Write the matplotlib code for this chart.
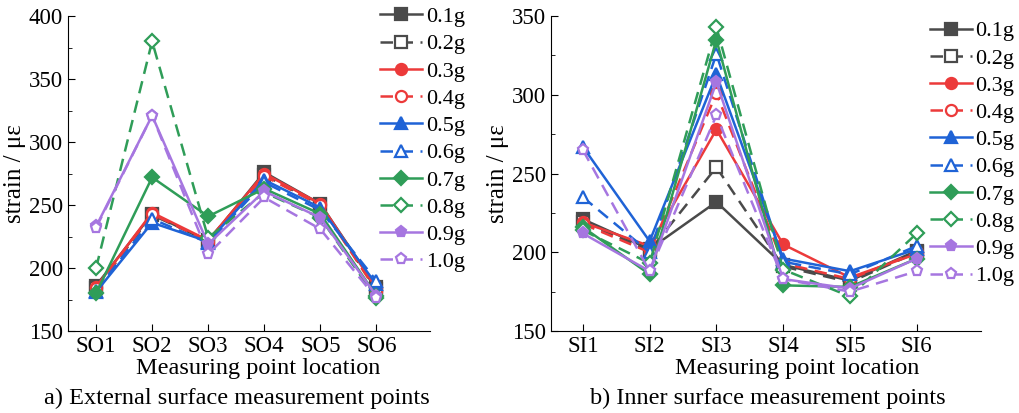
import matplotlib

matplotlib.use("Agg")
import matplotlib.pyplot as plt
from matplotlib.ticker import MultipleLocator

plt.rcParams.update({
    "font.family": ["Liberation Serif", "DejaVu Serif"],
    "font.size": 16,
})

LEVELS = ["0.1g", "0.2g", "0.3g", "0.4g", "0.5g", "0.6g", "0.7g", "0.8g", "0.9g", "1.0g"]
OUTER_POINTS = ["SO1", "SO2", "SO3", "SO4", "SO5", "SO6"]
INNER_POINTS = ["SI1", "SI2", "SI3", "SI4", "SI5", "SI6"]

# strain (με), one row per load level
outer_strain = [
    [186, 243, 221, 276, 251, 185],
    [184, 242, 222, 274, 250, 183],
    [185, 244, 222, 275, 251, 184],
    [184, 243, 221, 273, 250, 182],
    [181, 236, 221, 270, 248, 187],
    [182, 239, 220, 268, 246, 190],
    [180, 272, 241, 263, 243, 178],
    [200, 380, 224, 260, 240, 176],
    [233, 321, 219, 261, 240, 178],
    [232, 321, 211, 256, 231, 176],
]
inner_strain = [
    [221, 202, 232, 192, 182, 201],
    [219, 201, 254, 191, 181, 200],
    [219, 204, 278, 205, 184, 199],
    [218, 200, 301, 193, 183, 200],
    [267, 207, 313, 196, 188, 202],
    [235, 200, 326, 194, 186, 204],
    [216, 186, 335, 179, 178, 196],
    [214, 193, 343, 189, 172, 212],
    [212, 188, 308, 183, 177, 196],
    [265, 188, 287, 183, 175, 188],
]

COLORS = ["#4a4a4a", "#4a4a4a", "#ec3a3a", "#ec3a3a", "#1f63d6", "#1f63d6",
          "#2f9d58", "#2f9d58", "#a676e0", "#a676e0"]
MARKERS = ["s", "s", "o", "o", "^", "^", "D", "D", "p", "p"]


def draw(ax, labels, data, ylim, xlim, legend_anchor, xlabel_x):
    x = list(range(len(labels)))
    for i, level in enumerate(LEVELS):
        filled = i % 2 == 0
        ax.plot(
            x, data[i],
            color=COLORS[i],
            linestyle="-" if filled else (0, (5, 3)),
            linewidth=1.8,
            marker=MARKERS[i],
            markersize=8 if MARKERS[i] != "D" else 7,
            markerfacecolor=COLORS[i] if filled else "white",
            markeredgecolor=COLORS[i],
            markeredgewidth=1.6,
            label=level,
        )
    ax.set_xticks(x)
    ax.set_xticklabels(labels)
    ax.set_xlim(*xlim)
    ax.set_ylim(*ylim)
    ax.yaxis.set_major_locator(MultipleLocator(50))
    ax.yaxis.set_minor_locator(MultipleLocator(25))
    ax.tick_params(which="both", direction="in", labelsize=16.5)
    ax.tick_params(which="major", length=5)
    ax.tick_params(which="minor", length=3)
    ax.spines["top"].set_visible(False)
    ax.spines["right"].set_visible(False)
    ax.set_xlabel("Measuring point location", fontsize=17.5)
    ax.xaxis.set_label_coords(xlabel_x, -0.12)
    ax.xaxis.label.set_verticalalignment("center")
    ax.set_ylabel("strain / με", fontsize=18, labelpad=2)
    ax.legend(
        loc="upper left", bbox_to_anchor=legend_anchor, frameon=False,
        fontsize=16, handlelength=1.9, handletextpad=0.15,
        labelspacing=0.3, borderaxespad=0, borderpad=0,
    )


fig = plt.figure(figsize=(10.2, 4.13), dpi=100)
ax1 = fig.add_axes([0.0667, 0.1985, 0.355, 0.7625])
ax2 = fig.add_axes([0.540, 0.1985, 0.4216, 0.7625])

draw(ax1, OUTER_POINTS, outer_strain, (150, 400), (-0.5, 5.96), (0.862, 1.03), 0.525)
draw(ax2, INNER_POINTS, inner_strain, (150, 350), (-0.48, 5.96), (0.881, 0.985), 0.574)

fig.text(0.232, 0.036, "a) External surface measurement points", ha="center", va="center", fontsize=17.5)
fig.text(0.753, 0.036, "b) Inner surface measurement points", ha="center", va="center", fontsize=17.5)

fig.savefig("out.png", dpi=100)
